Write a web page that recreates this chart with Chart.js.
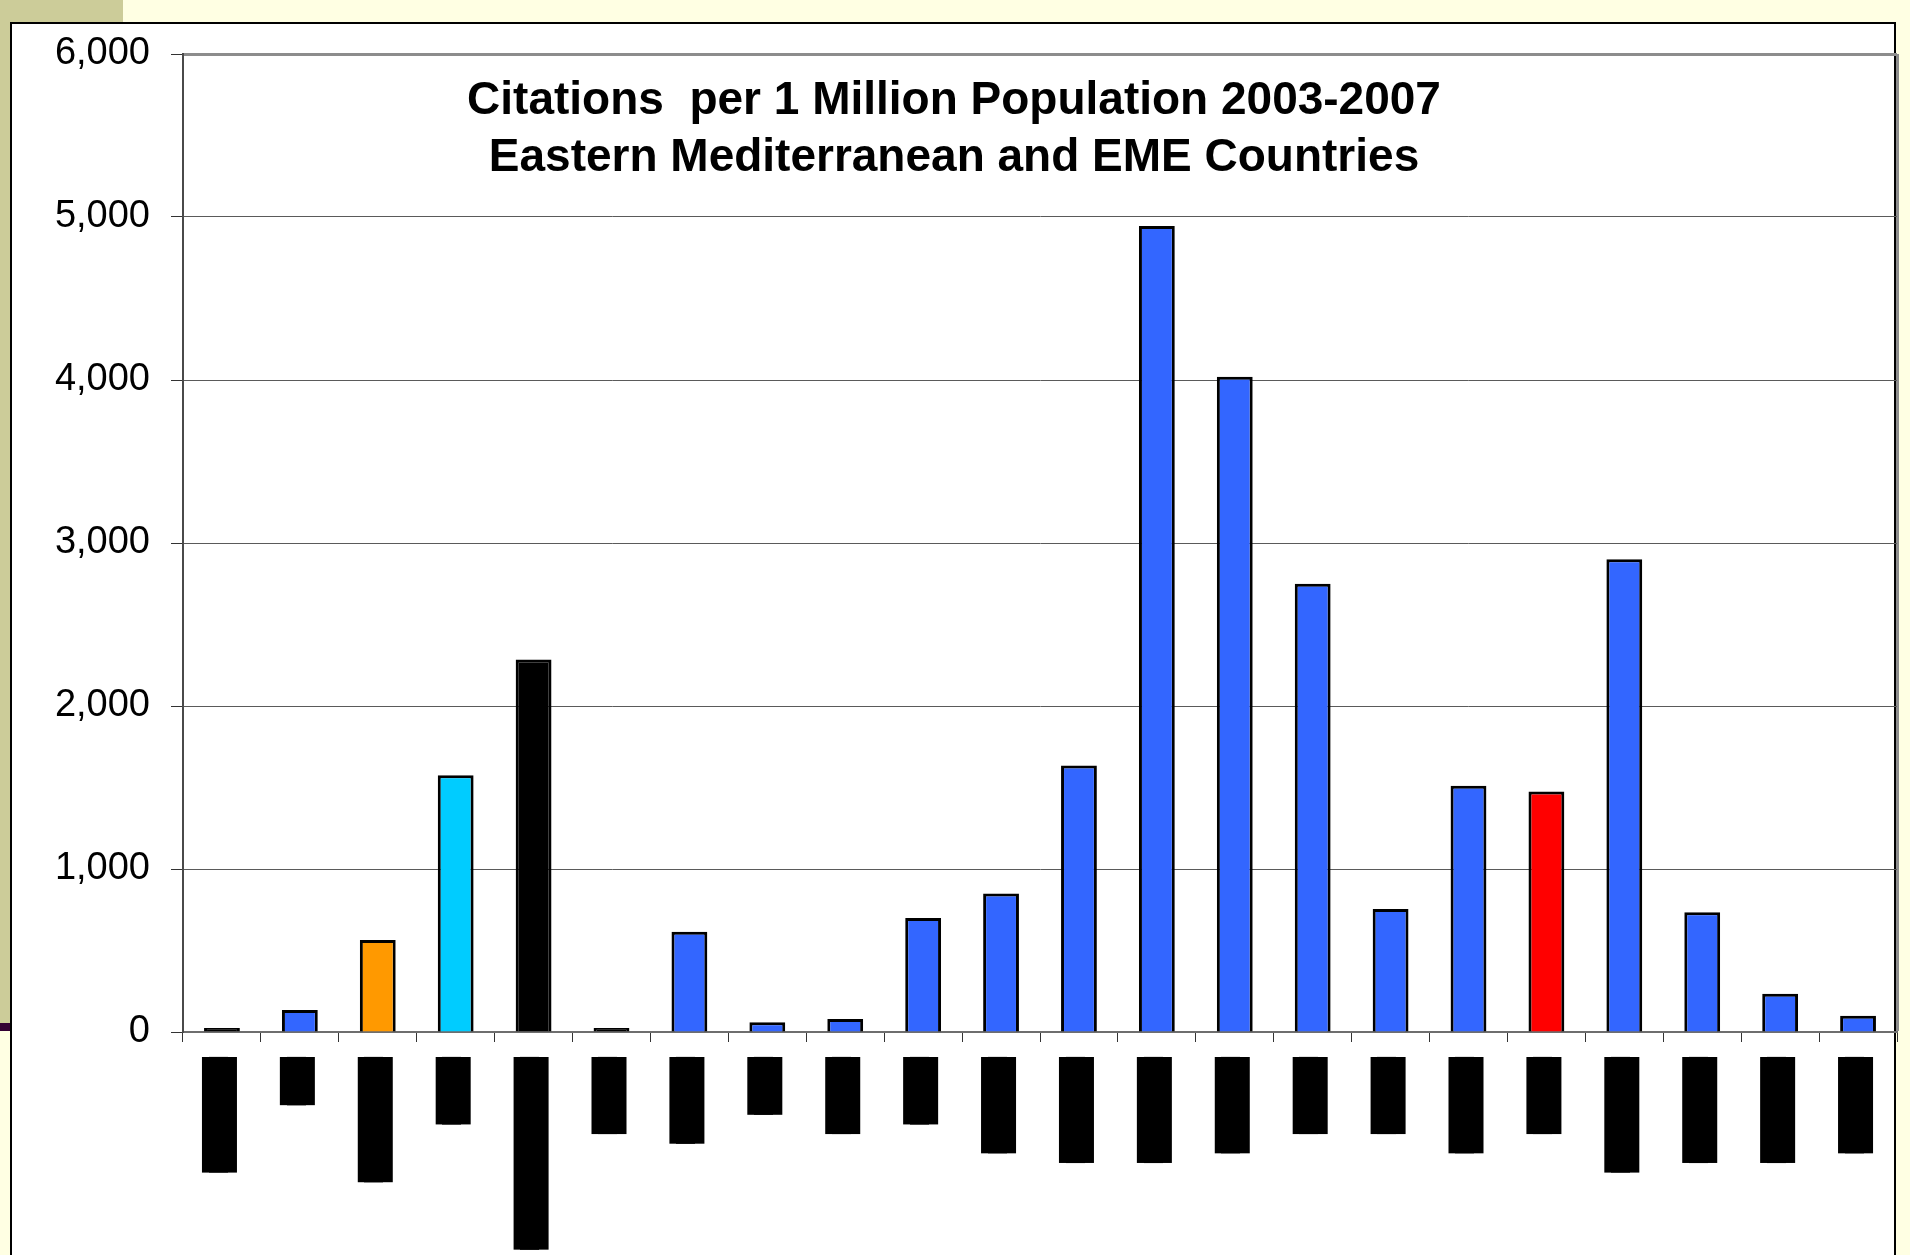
<!DOCTYPE html>
<html>
<head>
<meta charset="utf-8">
<title>Citations per 1 Million Population 2003-2007</title>
<script src="https://cdn.jsdelivr.net/npm/chart.js@4.4.1/dist/chart.umd.min.js"></script>
<style>
  html, body { margin: 0; padding: 0; }
  body { width: 1910px; height: 1255px; background: #FFFFE3; position: relative; overflow: hidden; }
  #khaki { position: absolute; left: 0; top: 0; width: 123px; height: 1023px; background: #CCCC99; }
  #purple { position: absolute; left: 0; top: 1023px; width: 14px; height: 8px; background: #330033; }
  #panel { position: absolute; left: 10px; top: 22px; width: 1882px; height: 1300px; background: #fff; border: 2px solid #000; }
  #chart { position: absolute; left: 0; top: 0; }
</style>
</head>
<body>
<div id="khaki"></div>
<div id="purple"></div>
<div id="panel"></div>
<canvas id="chart" width="1910" height="1255"></canvas>
<script>
// Title (drawn inside the plot area, like the original)
const titleLines = [
  "Citations  per 1 Million Population 2003-2007",
  "Eastern Mediterranean and EME Countries"
];

// Country labels are blacked out in the original, so they stay redacted here
const countries = [
  "████████████",
  "█████",
  "█████████████",
  "███████",
  "████████████████████",
  "████████",
  "█████████",
  "██████",
  "████████",
  "███████",
  "██████████",
  "███████████",
  "███████████",
  "██████████",
  "████████",
  "████████",
  "██████████",
  "████████",
  "████████████",
  "███████████",
  "███████████",
  "██████████"
];

// Citations per 1 million population
const citations = [25, 135, 565, 1575, 2285, 25, 615, 60, 80, 700, 850, 1635,
                   4945, 4020, 2750, 755, 1510, 1475, 2900, 735, 235, 100];

const yTicks = [0, 1000, 2000, 3000, 4000, 5000, 6000];

// bar fills
const BLUE = "#3366FF";
const barColors = ["#000000", BLUE, "#FF9900", "#00CCFF", "#000000", "#000000", BLUE, BLUE, BLUE, BLUE, BLUE,
                   BLUE, BLUE, BLUE, BLUE, BLUE, BLUE, "#FF0000", BLUE, BLUE, BLUE, BLUE];

const chartTitle = {
  id: "chartTitle",
  afterDraw(chart) {
    const ctx = chart.ctx;
    ctx.save();
    ctx.font = 'bold 46px "Liberation Sans", Arial, sans-serif';
    ctx.fillStyle = "#000";
    ctx.textAlign = "center";
    ctx.textBaseline = "alphabetic";
    titleLines.forEach((line, i) => ctx.fillText(line, 954, 114 + i * 57));
    ctx.restore();
  }
};

new Chart(document.getElementById("chart"), {
  type: "bar",
  data: {
    labels: countries,
    datasets: [{
      data: citations,
      backgroundColor: barColors,
      borderColor: "#000",
      borderWidth: 3,
      barPercentage: 0.46,
      categoryPercentage: 1
    }]
  },
  options: {
    responsive: false,
    animation: false,
    locale: "en-US",
    layout: { padding: { left: 55, right: 13, top: 54, bottom: 0 } },
    plugins: {
      legend: { display: false },
      tooltip: { enabled: false }
    },
    scales: {
      x: {
        grid: {
          offset: true,
          drawOnChartArea: true,
          color: c => c.type === "scale" ? "#8c8c8c" : "rgba(0,0,0,0)",
          lineWidth: c => c.type === "scale" ? 3 : 1,
          tickLength: 10,
          tickColor: "#333",
          tickWidth: 1
        },
        border: { color: "#6e6e6e", width: 2 },
        ticks: {
          autoSkip: false,
          minRotation: 90,
          maxRotation: 90,
          padding: 15,
          labelOffset: -20,
          color: "#000",
          showLabelBackdrop: true,
          backdropColor: "#000",
          backdropPadding: 0,
          font: { family: '"DejaVu Sans Mono", monospace', size: 16, lineHeight: 2.1875 }
        },
        afterFit(scale) { scale.height = 223; }
      },
      y: {
        min: 0,
        max: 6000,
        afterBuildTicks(scale) { scale.ticks = yTicks.map(v => ({ value: v })); },
        ticks: {
          color: "#000",
          padding: 21,
          font: { family: '"Liberation Sans", Arial, sans-serif', size: 38 }
        },
        grid: {
          color: c => c.tick && c.tick.value === 6000 ? "#8c8c8c" : "#5a5a5a",
          lineWidth: c => c.tick && c.tick.value === 6000 ? 3 : 1,
          tickLength: 12,
          tickColor: "#333",
          tickWidth: 1
        },
        border: { color: "#4a4a4a", width: 2 },
        afterFit(scale) { scale.width = 128; }
      }
    }
  },
  plugins: [chartTitle]
});
</script>
</body>
</html>
